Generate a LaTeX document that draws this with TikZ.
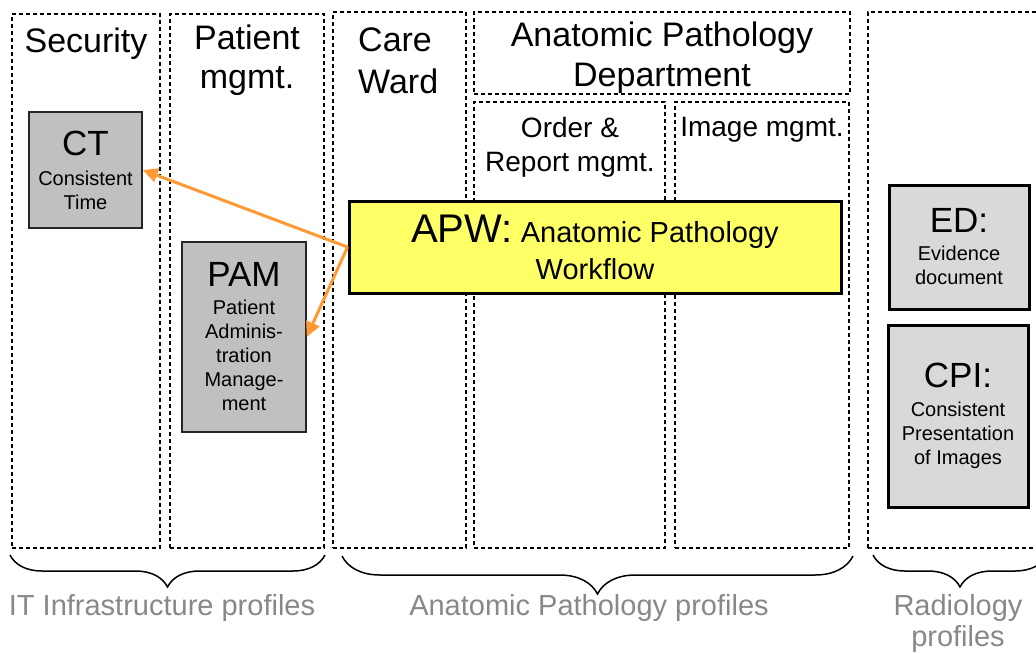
\documentclass[tikz,border=0pt]{standalone}
\usepackage{fontspec}
\setmainfont{Liberation Sans}
\usetikzlibrary{arrows.meta,decorations.pathreplacing}

\definecolor{apwyellow}{RGB}{255,255,102}
\definecolor{profgray}{RGB}{192,192,192}
\definecolor{radgray}{RGB}{217,217,217}
\definecolor{floworange}{RGB}{255,153,51}
\definecolor{footgray}{RGB}{136,136,136}

\newcommand{\hdsize}{\fontsize{34}{39}\selectfont}
\newcommand{\midsize}{\fontsize{28}{34}\selectfont}
\newcommand{\bigsize}{\fontsize{35}{35}\selectfont}
\newcommand{\subsize}{\fontsize{20}{24}\selectfont}
\newcommand{\apwsize}{\fontsize{29}{37}\selectfont}
\newcommand{\footsize}{\fontsize{29}{31}\selectfont}

\begin{document}
\begin{tikzpicture}[x=1pt,y=-1pt,
  column/.style={draw,dash pattern=on 4pt off 3pt,line width=1.2pt,inner sep=0pt},
  head/.style={font=\hdsize,align=center,inner sep=0pt},
  itbox/.style={draw=black!85,line width=1.5pt,fill=profgray,font=\subsize,align=center,inner sep=0pt},
  radbox/.style={draw,line width=3pt,fill=radgray,font=\subsize,align=center,inner sep=0pt},
  flow/.style={draw=floworange,line width=3pt,-{Triangle[length=15pt,width=14pt]}},
  curly/.style={decorate,line width=1.5pt},
  foot/.style={font=\footsize,text=footgray,align=center,inner sep=0pt}]
\useasboundingbox (0,0) rectangle (1036,653);

\node[column,minimum width=148pt,minimum height=534pt] (sec) at (86,281) {};
\node[column,minimum width=154pt,minimum height=534pt] (pat) at (247,281) {};
\node[column,minimum width=133pt,minimum height=536pt] (care) at (399.5,280) {};
\node[column,minimum width=376pt,minimum height=82pt] (apd) at (662,53) {};
\node[column,minimum width=191pt,minimum height=446pt] (ord) at (569.5,325) {};
\node[column,minimum width=174pt,minimum height=446pt] (img) at (762,325) {};
\node[column,minimum width=180pt,minimum height=536pt] (rad) at (958,280) {};

\node[head,anchor=north] (sectitle) at (86,28) {Security};
\node[head,anchor=north] (pattitle) at (247,25) {Patient\\mgmt.};
\node[head,anchor=north west,align=left] (caretitle) at (358,28) {Care\\[3pt]Ward};
\node[head,anchor=north] (apdtitle) at (662,22) {Anatomic Pathology\\[1pt]Department};
\node[head,font=\midsize,anchor=north] (ordtitle) at (570,117) {Order \&\\Report mgmt.};
\node[head,font=\midsize,anchor=north] (imgtitle) at (762,117) {Image mgmt.};

\node[itbox,minimum width=113pt,minimum height=116pt] (ct) at (85.5,170) {{\bigsize CT}\\[6pt]Consistent\\Time};
\node[itbox,minimum width=124pt,minimum height=190pt] (pam) at (244,337) {{\bigsize PAM}\\[4pt]Patient\\Adminis-\\tration\\Manage-\\ment};
\node[radbox,fill=apwyellow,font=\apwsize,minimum width=492pt,minimum height=92pt] (apw) at (595,247) {{\fontsize{40}{40}\selectfont APW:} Anatomic Pathology\\Workflow};
\node[radbox,minimum width=140pt,minimum height=124pt] (ed) at (959,247) {{\bigsize ED:}\\[4pt]Evidence\\document};
\node[radbox,minimum width=140pt,minimum height=182pt] (cpi) at (958,416) {{\bigsize CPI:}\\[5pt]Consistent\\Presentation\\of Images};

\draw[flow] (apw.west) -- (ct.east);
\draw[flow] (apw.west) -- (pam.east);

\draw[curly,decoration={brace,mirror,amplitude=32pt}] (10,555) -- (325,555);
\draw[curly,decoration={brace,mirror,amplitude=38pt}] (342,556) -- (853,556);
\draw[curly,decoration={brace,mirror,amplitude=32pt}] (873,555) -- (1047,555);

\node[foot,anchor=north] (itfoot) at (162,594) {IT Infrastructure profiles};
\node[foot,anchor=north] (apfoot) at (589,594) {Anatomic Pathology profiles};
\node[foot,anchor=north] (radfoot) at (958,594) {Radiology\\profiles};
\end{tikzpicture}
\end{document}
